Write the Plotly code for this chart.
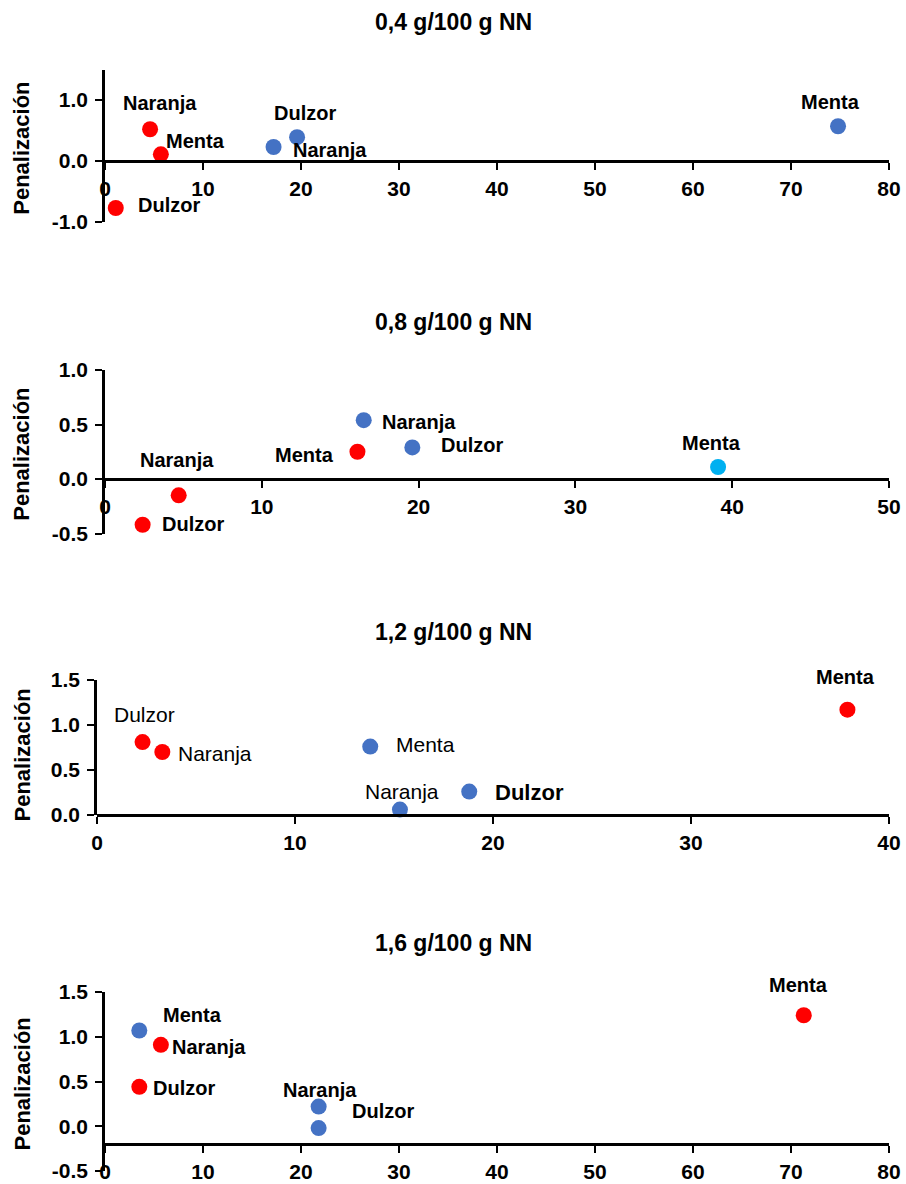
import plotly.graph_objects as go

# ---------------- data ----------------
titles = ["0,4 g/100 g NN", "0,8 g/100 g NN", "1,2 g/100 g NN", "1,6 g/100 g NN"]

p1_labels = ["Dulzor", "Naranja", "Menta", "Naranja", "Dulzor", "Menta"]
p1_x = [1.1, 4.6, 5.7, 17.2, 19.6, 74.8]
p1_y = [-0.77, 0.52, 0.11, 0.23, 0.39, 0.57]
p1_group = ["red", "red", "red", "blue", "blue", "blue"]

p2_labels = ["Dulzor", "Naranja", "Menta", "Naranja", "Dulzor", "Menta"]
p2_x = [2.4, 4.7, 16.1, 16.5, 19.6, 39.1]
p2_y = [-0.42, -0.15, 0.25, 0.54, 0.29, 0.11]
p2_group = ["red", "red", "red", "blue", "blue", "cyan"]

p3_labels = ["Dulzor", "Naranja", "Menta", "Naranja", "Dulzor", "Menta"]
p3_x = [2.3, 3.3, 13.8, 15.3, 18.8, 37.9]
p3_y = [0.81, 0.70, 0.76, 0.06, 0.26, 1.17]
p3_group = ["red", "red", "blue", "blue", "blue", "red"]

p4_labels = ["Menta", "Naranja", "Dulzor", "Naranja", "Dulzor", "Menta"]
p4_x = [3.5, 5.7, 3.5, 21.8, 21.8, 71.3]
p4_y = [1.07, 0.91, 0.44, 0.22, -0.02, 1.24]
p4_group = ["blue", "red", "red", "blue", "blue", "red"]

x_ranges = [[0, 80], [0, 50], [0, 40], [0, 80]]
y_ranges = [[-1.0, 1.5], [-0.5, 1.0], [0.0, 1.5], [-0.5, 1.5]]
x_cross = [0.0, 0.0, 0.0, -0.2]
y_tickvals = [
    [-1.0, 0.0, 1.0],
    [-0.5, 0.0, 0.5, 1.0],
    [0.0, 0.5, 1.0, 1.5],
    [-0.5, 0.0, 0.5, 1.0, 1.5],
]
y_ticktext = [
    ["-1.0", "0.0", "1.0"],
    ["-0.5", "0.0", "0.5", "1.0"],
    ["0.0", "0.5", "1.0", "1.5"],
    ["-0.5", "0.0", "0.5", "1.0", "1.5"],
]

# ---------------- style ----------------
W, H = 906, 1184
colors = {"red": "#FF0000", "blue": "#4472C4", "cyan": "#00B0F0"}
FONT = "Liberation Sans, Arial, sans-serif"

# label offsets in pixels (dx right, dy down), font weight, size
p1_off = [(53, -3), (10, -26), (35, -13), (56, 3), (8, -24), (-8, -24)]
p2_off = [(50, -1), (-2, -35), (-53, 3), (55, 2), (60, -2), (-7, -24)]
p3_off = [(2, -28), (53, 1), (55, -2), (2, -18), (60, 1), (-2, -33)]
p4_off = [(53, -15), (48, 2), (45, 1), (1, -17), (64, -17), (-5, -30)]
p3_weight = ["normal", "normal", "normal", "normal", "bold", "bold"]
p3_size = [21, 21, 21, 21, 22, 20]
LAB = 20

# pixel geometry of each panel: x0, x1, y_top(px), y_bottom(px), title y(px)
geo = [
    (105, 889, 69.5, 222, 22),
    (105, 889, 370, 533.5, 322),
    (97, 889, 680, 815, 632),
    (105, 889, 992, 1171, 943),
]

panels = [
    (p1_labels, p1_x, p1_y, p1_group, p1_off, ["bold"] * 6, [LAB] * 6),
    (p2_labels, p2_x, p2_y, p2_group, p2_off, ["bold"] * 6, [LAB] * 6),
    (p3_labels, p3_x, p3_y, p3_group, p3_off, p3_weight, p3_size),
    (p4_labels, p4_x, p4_y, p4_group, p4_off, ["bold"] * 6, [LAB] * 6),
]

fig = go.Figure()
annotations = []
layout = dict(
    width=W, height=H, margin=dict(l=0, r=0, t=0, b=0, pad=0),
    paper_bgcolor="white", plot_bgcolor="white", showlegend=False,
    font=dict(family=FONT, color="black"),
)

def py(p):
    return 1 - p / H

for i, (labs, xs, ys, grp, offs, wts, szs) in enumerate(panels):
    n = i + 1
    xa = "x" if n == 1 else f"x{n}"
    ya = "y" if n == 1 else f"y{n}"
    xk = "xaxis" if n == 1 else f"xaxis{n}"
    yk = "yaxis" if n == 1 else f"yaxis{n}"
    x0, x1, yt, yb, ty = geo[i]
    fig.add_trace(go.Scatter(
        x=xs, y=ys, mode="markers", xaxis=xa, yaxis=ya,
        marker=dict(size=16, color=[colors[g] for g in grp], line=dict(width=0)),
        hoverinfo="skip", cliponaxis=False,
    ))
    yr = y_ranges[i]
    cross_px = yb - (x_cross[i] - yr[0]) / (yr[1] - yr[0]) * (yb - yt)
    layout[xk] = dict(
        domain=[x0 / W, x1 / W], range=x_ranges[i], anchor="free",
        position=py(cross_px), side="bottom", dtick=10, tick0=0,
        showline=True, linecolor="black", linewidth=2.5,
        ticks="outside", ticklen=7, tickwidth=2, tickcolor="black",
        showgrid=False, zeroline=False, automargin=False,
        tickfont=dict(family=FONT, size=21, weight="bold"),
        ticklabelstandoff=1,
    )
    layout[yk] = dict(
        domain=[py(yb), py(yt)], range=yr, anchor=xa,
        tickmode="array", tickvals=y_tickvals[i], ticktext=y_ticktext[i],
        showline=True, linecolor="black", linewidth=2.5,
        ticks="outside", ticklen=7, tickwidth=2, tickcolor="black",
        showgrid=False, zeroline=False, automargin=False,
        tickfont=dict(family=FONT, size=21, weight="bold"),
        ticklabelstandoff=3,
    )
    # panel title
    annotations.append(dict(
        text=titles[i], xref="paper", yref="paper", x=453 / W, y=py(ty),
        showarrow=False, xanchor="center", yanchor="middle",
        font=dict(family=FONT, size=23, weight="bold"),
    ))
    # y axis title
    ymid = (yt + yb) / 2 + (8 if i == 2 else 3)
    annotations.append(dict(
        text="Penalización", xref="paper", yref="paper", x=22 / W, y=py(ymid),
        showarrow=False, textangle=-90, xanchor="center", yanchor="middle",
        font=dict(family=FONT, size=22, weight="bold"),
    ))
    # point labels
    for lab, xv, yv, (dx, dy), wt, sz in zip(labs, xs, ys, offs, wts, szs):
        annotations.append(dict(
            text=lab, x=xv, y=yv, xref=xa, yref=ya, showarrow=False,
            xshift=dx, yshift=-dy, xanchor="center", yanchor="middle",
            font=dict(family=FONT, size=sz, weight=wt, color="black"),
        ))

layout["annotations"] = annotations
fig.update_layout(**layout)
fig.write_html(
    "out.html",
    config={"displayModeBar": False},
    post_script="document.body.style.margin='0';document.body.style.padding='0';document.body.style.overflow='hidden';",
)
